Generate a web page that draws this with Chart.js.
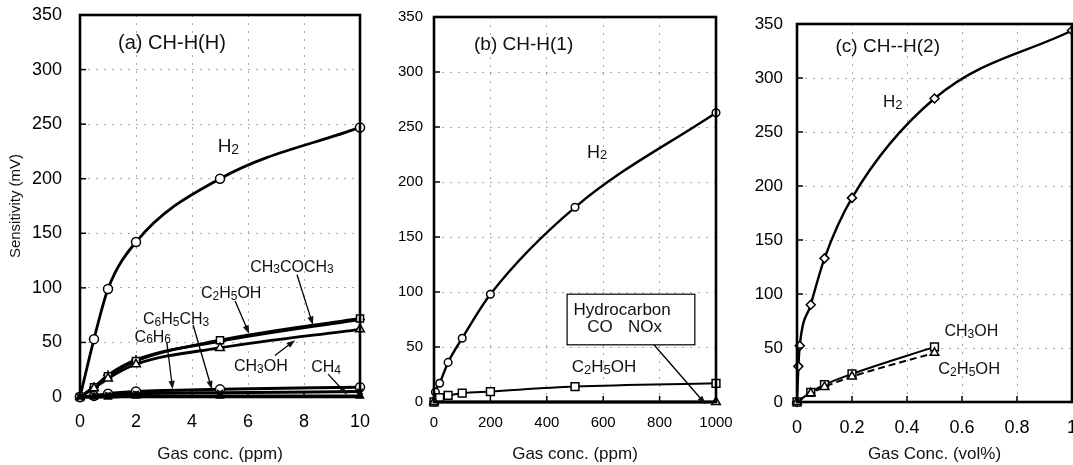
<!DOCTYPE html>
<html><head><meta charset="utf-8">
<script src="https://cdn.jsdelivr.net/npm/chart.js@4.4.1/dist/chart.umd.min.js"></script>
<style>
body{margin:0;background:#fff;width:1073px;height:465px;overflow:hidden;position:relative}
canvas{position:absolute;top:0}
</style></head><body>
<canvas id="ca" width="372" height="465" style="left:0"></canvas>
<canvas id="cb" width="370" height="465" style="left:372px"></canvas>
<canvas id="cc" width="368" height="465" style="left:722px"></canvas>
<script>
// panel (a) CH-H(H), x in ppm
const aX = [0, 0.5, 1, 2, 5, 10];
const aH2 = [0, 53, 99, 142, 200, 247];
const aC2H5OH = [0, 9, 19, 33, 52, 72];
const aCH3COCH3 = [0, 9, 20, 34, 51, 71];
const aCH3OH = [0, 8, 17, 30, 45, 62];
const aC6H5CH3 = [0, 1, 3, 5, 7, 9];
const aC6H6 = [0, 1, 2, 3, 4, 5];
const aCH4 = [0, 0, 0, 1, 1, 1];
const aXTicks = [0, 2, 4, 6, 8, 10];

// panel (b) CH-H(1), x in ppm
const bH2X = [0, 5, 20, 50, 100, 200, 500, 1000];
const bH2 = [0, 9, 17, 36, 58, 98, 177, 263];
const bEtX = [0, 20, 50, 100, 200, 500, 1000];
const bC2H5OH = [0, 4, 6, 8, 9.5, 14, 17];
const bHcX = [0, 1000];
const bHydrocarbon = [0, 0];
const bXTicks = [0, 200, 400, 600, 800, 1000];

// panel (c) CH--H(2), x in vol%
const cH2X = [0, 0.005, 0.01, 0.05, 0.1, 0.2, 0.5, 1.0];
const cH2 = [0, 33, 52, 90, 133, 189, 281, 344];
const cAlcX = [0, 0.05, 0.1, 0.2, 0.5];
const cCH3OH = [0, 9, 16, 26, 51];
const cC2H5OH = [0, 8, 14, 23.5, 45.5];
const cXTicks = [0, 0.2, 0.4, 0.6, 0.8, 1];

const yTicks = [0, 50, 100, 150, 200, 250, 300, 350];
const FONT = '"Liberation Sans", Arial, sans-serif';

const pts = (xs, ys) => xs.map((x, i) => ({x: x, y: ys[i]}));

function ds(label, xs, ys, o) {
  return Object.assign({
    label: label, data: pts(xs, ys), showLine: true, clip: false,
    borderColor: '#000', backgroundColor: '#fff', pointBorderColor: '#000',
    pointBackgroundColor: '#fff', borderWidth: 2.8, pointRadius: 4.5,
    pointBorderWidth: 1.5, cubicInterpolationMode: 'monotone'
  }, o);
}

// formula text with smaller, slightly lowered digits
function chem(ctx, txt, x, y, size, align) {
  const parts = txt.match(/\d+|\D+/g);
  const sub = Math.round(size * 0.74);
  const fnt = p => (/\d/.test(p) ? sub : size) + 'px ' + FONT;
  const ws = parts.map(p => { ctx.font = fnt(p); return ctx.measureText(p).width; });
  const total = ws.reduce((a, b) => a + b, 0);
  let cx = align === 'left' ? x : x - total / 2;
  const base = y + size * 0.36;
  ctx.textAlign = 'left';
  ctx.textBaseline = 'alphabetic';
  parts.forEach((p, i) => {
    ctx.font = fnt(p);
    ctx.fillText(p, cx, base + (/\d/.test(p) ? size * 0.1 : 0));
    cx += ws[i];
  });
}

function arrow(ctx, x1, y1, x2, y2) {
  const a = Math.atan2(y2 - y1, x2 - x1), h = 9;
  ctx.lineWidth = 1.3;
  ctx.beginPath(); ctx.moveTo(x1, y1); ctx.lineTo(x2 - Math.cos(a) * h * 0.8, y2 - Math.sin(a) * h * 0.8); ctx.stroke();
  ctx.beginPath();
  ctx.moveTo(x2, y2);
  ctx.lineTo(x2 - h * Math.cos(a - 0.35), y2 - h * Math.sin(a - 0.35));
  ctx.lineTo(x2 - h * Math.cos(a + 0.35), y2 - h * Math.sin(a + 0.35));
  ctx.closePath(); ctx.fill();
}

function panel(id, p) {
  const deco = {
    id: 'deco',
    afterDatasetsDraw(chart) {
      const ctx = chart.ctx, ca = chart.chartArea, sx = chart.scales.x, sy = chart.scales.y;
      const X = v => sx.getPixelForValue(v), Y = v => sy.getPixelForValue(v);
      ctx.save();
      ctx.strokeStyle = '#000'; ctx.fillStyle = '#111';
      // inward ticks
      ctx.lineWidth = 1.5;
      yTicks.forEach(v => { ctx.beginPath(); ctx.moveTo(ca.left, Y(v)); ctx.lineTo(ca.left + 6, Y(v)); ctx.stroke(); });
      p.xTicks.forEach(v => { ctx.beginPath(); ctx.moveTo(X(v), ca.bottom); ctx.lineTo(X(v), ca.bottom - 6); ctx.stroke(); });
      // frame
      ctx.lineWidth = 2.6;
      ctx.strokeRect(ca.left, ca.top, ca.right - ca.left, ca.bottom - ca.top);
      // title inside
      ctx.font = p.title[3] + 'px ' + FONT;
      ctx.textAlign = 'left'; ctx.textBaseline = 'middle';
      ctx.fillText(p.title[0], X(p.title[1]), Y(p.title[2]));
      p.labels.forEach(l => chem(ctx, l[0], X(l[1]), Y(l[2]), l[3], 'center'));
      p.arrows.forEach(a => arrow(ctx, X(a[0]), Y(a[1]), X(a[2]), Y(a[3])));
      if (p.extra) p.extra(ctx, X, Y);
      ctx.restore();
    }
  };
  return new Chart(document.getElementById(id), {
    type: 'scatter',
    data: {datasets: p.datasets},
    options: {
      responsive: false, animation: false,
      layout: {padding: {left: 0, top: p.pad[0], right: p.pad[1], bottom: 0}},
      plugins: {legend: {display: false}, tooltip: {enabled: false}},
      scales: {
        x: {
          type: 'linear', min: p.xTicks[0], max: p.xTicks[p.xTicks.length - 1],
          afterBuildTicks: s => { s.ticks = p.xTicks.map(v => ({value: v})); },
          afterFit: s => { s.height = p.xH; },
          grid: {color: '#aaa', lineWidth: 1, drawTicks: true, tickLength: p.xPad, tickColor: 'rgba(0,0,0,0)'},
          border: {display: false, dash: [2, 6]},
          ticks: {color: '#000', font: {family: FONT, size: p.xFont}, padding: 0, maxRotation: 0,
                  callback: v => String(v)},
          title: {display: true, text: p.xTitle, color: '#111', font: {family: FONT, size: 17}, padding: {top: p.xTitlePad, bottom: 0}}
        },
        y: {
          min: 0, max: 350,
          afterBuildTicks: s => { s.ticks = yTicks.map(v => ({value: v})); },
          afterFit: s => { s.width = p.yW; },
          grid: {color: '#aaa', lineWidth: 1, drawTicks: true, tickLength: p.yPad, tickColor: 'rgba(0,0,0,0)'},
          border: {display: false, dash: [2, 6]},
          ticks: {color: '#000', font: {family: FONT, size: p.yFont}, padding: 0},
          title: {display: !!p.yTitle, text: p.yTitle || '', color: '#111', font: {family: FONT, size: 15}, padding: {top: 7, bottom: 0}}
        }
      }
    },
    plugins: [deco]
  });
}

panel('ca', {
  pad: [15, 12], xH: 68, yW: 80, xFont: 18, yFont: 18, xPad: 14, yPad: 18, xTitlePad: 4,
  xTicks: aXTicks, xTitle: 'Gas conc. (ppm)', yTitle: 'Sensitivity (mV)',
  title: ['(a) CH-H(H)', 1.36, 324, 20],
  datasets: [
    ds('C6H6', aX, aC6H6, {pointStyle: 'crossRot', pointRadius: 4, borderWidth: 3}),
    ds('CH4', aX, aCH4, {pointStyle: 'triangle', pointBackgroundColor: '#000', pointRadius: 4, borderWidth: 3}),
    ds('C6H5CH3', aX, aC6H5CH3, {pointStyle: 'circle', pointRadius: 4.5, borderWidth: 3}),
    ds('CH3OH', aX, aCH3OH, {pointStyle: 'triangle', pointRadius: 5}),
    ds('C2H5OH', aX, aC2H5OH, {pointStyle: 'rect', pointRadius: 5}),
    ds('CH3COCH3', aX, aCH3COCH3, {pointStyle: 'cross', pointRadius: 5}),
    ds('H2', aX, aH2, {pointStyle: 'circle', pointRadius: 4.5})
  ],
  labels: [['H2', 5.3, 231, 19], ['CH3COCH3', 7.57, 120, 16], ['C2H5OH', 5.4, 96, 16],
           ['C6H5CH3', 3.43, 72, 16], ['C6H6', 2.6, 56, 16], ['CH3OH', 6.46, 29, 16], ['CH4', 8.79, 28, 16]],
  arrows: [[7.75, 112, 8.32, 66], [5.54, 88, 6.04, 58], [4.04, 66, 4.71, 7], [3.1, 50, 3.31, 7],
           [6.96, 38, 7.68, 52], [8.86, 21, 9.54, 2]]
});

panel('cb', {
  pad: [17, 26], xH: 63, yW: 62, xFont: 15, yFont: 15, xPad: 12, yPad: 11, xTitlePad: 3,
  xTicks: bXTicks, xTitle: 'Gas conc. (ppm)',
  title: ['(b) CH-H(1)', 142, 325, 19],
  datasets: [
    ds('Hydrocarbon', bHcX, bHydrocarbon, {pointStyle: 'triangle', pointRadius: 5, borderWidth: 3}),
    ds('C2H5OH', bEtX, bC2H5OH, {pointStyle: 'rect', pointRadius: 5.5, borderWidth: 2}),
    ds('H2', bH2X, bH2, {pointStyle: 'circle', pointRadius: 3.8, borderWidth: 2.4})
  ],
  labels: [['H2', 578, 228, 18], ['C2H5OH', 603, 33, 17]],
  arrows: [[777, 53, 963, -2]],
  extra(ctx, X, Y) {
    ctx.lineWidth = 1.2;
    ctx.fillStyle = '#fff';
    ctx.fillRect(X(472), Y(98), X(925) - X(472), Y(52) - Y(98));
    ctx.strokeRect(X(472), Y(98), X(925) - X(472), Y(52) - Y(98));
    ctx.fillStyle = '#111';
    ctx.font = '17px ' + FONT; ctx.textAlign = 'center'; ctx.textBaseline = 'middle';
    ctx.fillText('Hydrocarbon', X(667), Y(83));
    ctx.fillText('CO', X(589), Y(68));
    ctx.fillText('NOx', X(748), Y(68));
  }
});

panel('cc', {
  pad: [24, 18], xH: 63, yW: 75, xFont: 18, yFont: 17, xPad: 15, yPad: 14, xTitlePad: 0,
  xTicks: cXTicks, xTitle: 'Gas Conc. (vol%)',
  title: ['(c) CH--H(2)', 0.14, 329, 19],
  datasets: [
    ds('C2H5OH', cAlcX, cC2H5OH, {pointStyle: 'triangle', pointRadius: 5, borderWidth: 2, borderDash: [7, 4]}),
    ds('CH3OH', cAlcX, cCH3OH, {pointStyle: 'rect', pointRadius: 5.5, borderWidth: 2}),
    ds('H2', cH2X, cH2, {pointStyle: 'rectRot', pointRadius: 4.5, borderWidth: 2.4})
  ],
  labels: [['H2', 0.348, 279, 17], ['CH3OH', 0.634, 66, 16], ['C2H5OH', 0.626, 31, 16.5]],
  arrows: []
});
</script>
</body></html>
